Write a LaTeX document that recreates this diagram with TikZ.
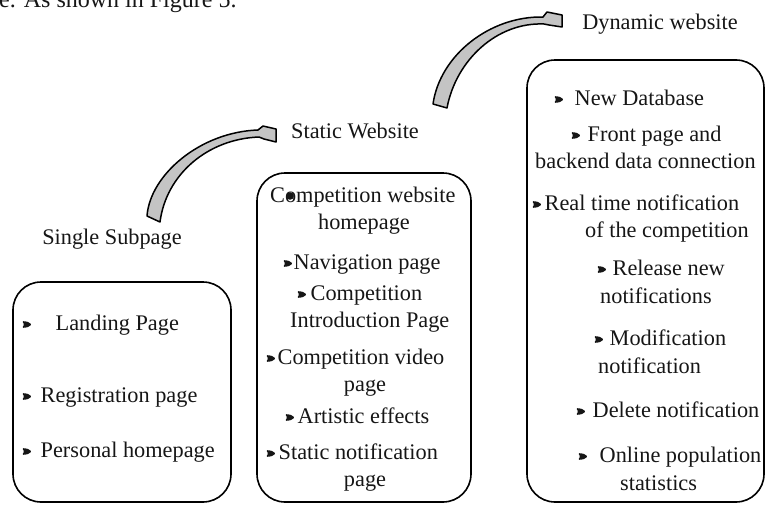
\documentclass[tikz,border=0pt]{standalone}
\usepackage{fontspec}
\setmainfont{Liberation Serif}
\definecolor{txt}{HTML}{161616}
\definecolor{arrfill}{HTML}{C4C4C4}
\newcommand{\bul}[1]{\tikz[baseline=-5.5pt]\fill[txt,rounded corners=1pt] (0pt,-3.4pt) -- (5.5pt,-2.8pt) -- (9.5pt,0pt) -- (5.5pt,2.8pt) -- (0pt,3.4pt) -- (2pt,0pt) -- cycle;\hspace{#1}}
\begin{document}
\begin{tikzpicture}[x=1pt,y=-1pt,
  ln/.style={anchor=base west,inner sep=0pt,text=txt,font=\fontsize{22.3}{27}\selectfont},
  lc/.style={anchor=base,inner sep=0pt,text=txt,font=\fontsize{22.3}{27}\selectfont},
  panel/.style={draw=black,line width=1.6pt,rounded corners=28pt},
  bigarrow/.style={draw=black,line width=1.5pt,fill=arrfill,line join=round}]
\useasboundingbox (0,0) rectangle (766,506);
\clip (0,0) rectangle (766,506);

% cut-off caption fragment at the top
\node[ln,font=\fontsize{24}{28}\selectfont] (cap) at (-1,8) {e. As shown in Figure 5.};

% panels
\draw[panel] (13,282) rectangle (231,502);
\draw[panel] (257,173) rectangle (471,502);
\draw[panel] (527,60) rectangle (764,502);

% headings
\node[lc] (h1) at (112,244) {Single Subpage};
\node[lc] (h2) at (355,138) {Static Website};
\node[lc] (h3) at (660,29) {Dynamic website};

% curved arrows
\draw[bigarrow] (147,216) .. controls (150,175) and (200,132) .. (258,130)
  -- (263,126) -- (276,129) -- (276,142) -- (264,139) -- (259,137)
  .. controls (207,139) and (166,175) .. (160,222) -- cycle;
\draw[bigarrow] (433,104) .. controls (440,55) and (490,16) .. (543,17)
  -- (547,12) -- (562,15) -- (562,27) -- (549,25) -- (544,24)
  .. controls (497,22) and (456,60) .. (447,108) -- cycle;

% left panel
\node[ln] (l1) at (22,330) {\bul{24pt}Landing Page};
\node[ln] (l2) at (22,402) {\bul{9pt}Registration page};
\node[ln] (l3) at (22,457) {\bul{9pt}Personal homepage};

% middle panel
\node[ln] (m1) at (270,202) {Competition website};
\fill[txt] (290,196) circle (3.8);
\node[lc] (m2) at (364,229) {homepage};
\node[ln] (m3) at (283,269) {\bul{1pt}Navigation page};
\node[ln] (m4) at (297,300) {\bul{4pt}Competition};
\node[ln] (m5) at (290,327) {Introduction Page};
\node[ln] (m6) at (266,364) {\bul{2pt}Competition video};
\node[lc] (m7) at (365,391) {page};
\node[ln] (m8) at (285,423) {\bul{3pt}Artistic effects};
\node[ln] (m9) at (266,459) {\bul{3pt}Static notification};
\node[lc] (m10) at (365,486) {page};

% right panel
\node[ln] (r1) at (554,105) {\bul{11pt}New Database};
\node[ln] (r2) at (571,141) {\bul{7pt}Front page and};
\node[ln] (r3) at (535,168) {backend data connection};
\node[ln] (r4) at (532,210) {\bul{3pt}Real time notification};
\node[ln] (r5) at (585,237) {of the competition};
\node[ln] (r6) at (597,275) {\bul{6pt}Release new};
\node[ln] (r7) at (600,303) {notifications};
\node[ln] (r8) at (594,345) {\bul{6pt}Modification};
\node[ln] (r9) at (598,373) {notification};
\node[ln] (r10) at (576,417) {\bul{7pt}Delete notification};
\node[ln] (r11) at (578,462) {\bul{12pt}Online population};
\node[ln] (r12) at (620,490) {statistics};
\end{tikzpicture}
\end{document}
